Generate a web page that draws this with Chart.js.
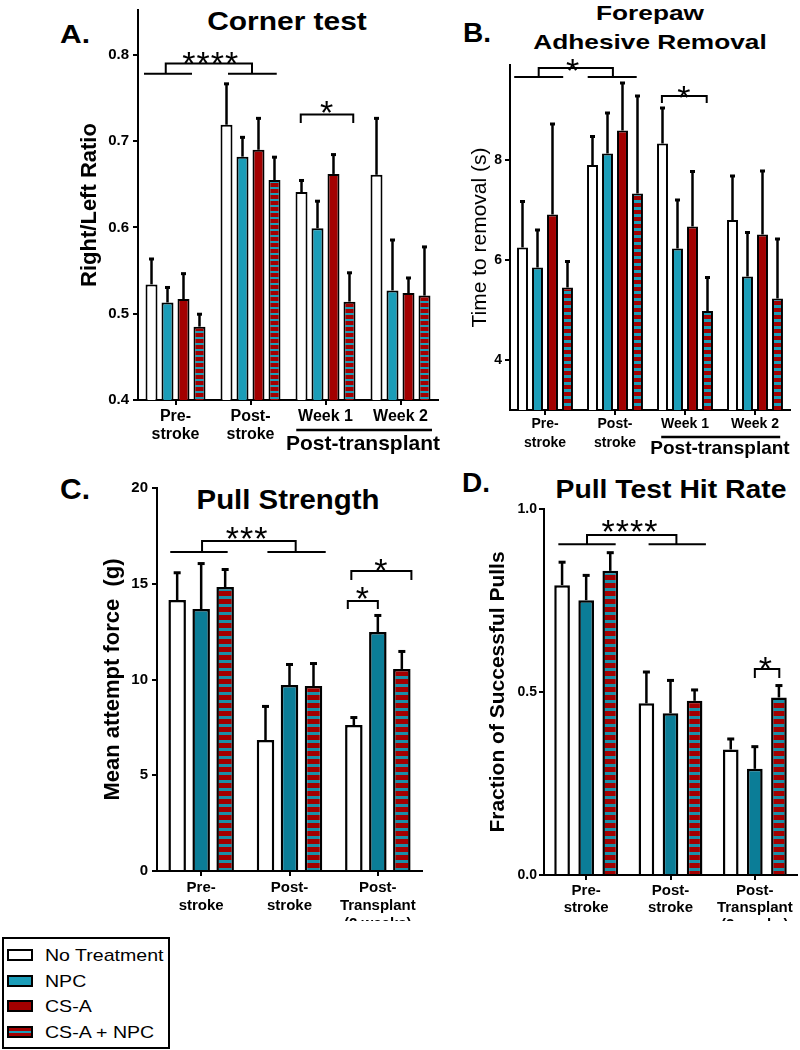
<!DOCTYPE html>
<html>
<head>
<meta charset="utf-8">
<script src="https://cdn.jsdelivr.net/npm/chart.js@4.4.1/dist/chart.umd.min.js"></script>
<style>
  body { margin: 0; background: #fff; width: 800px; height: 1050px; position: relative; overflow: hidden;
         font-family: "Liberation Sans", Arial, sans-serif; color: #000; }
  canvas { position: absolute; }
  .t { position: absolute; font-weight: bold; line-height: 1; white-space: nowrap; }
  #legend { position: absolute; left: 2px; top: 937px; width: 164px; height: 108px; border: 2px solid #000; }
  #legend .sw { position: absolute; left: 3px; width: 26px; height: 12px; box-sizing: border-box; border: 2px solid #000; }
  #legend .lb { position: absolute; left: 41px; font-size: 17px; line-height: 1; white-space: nowrap;
                transform: translateY(-50%) scaleX(1.15); transform-origin: left center; }
</style>
</head>
<body>

<div class="t" style="left:75px;top:34px;font-size:25px;transform:translate(-50%,-50%) scaleX(1.2)">A.</div>
<div class="t" style="left:287px;top:21px;font-size:26px;transform:translate(-50%,-50%) scaleX(1.15)">Corner test</div>
<div class="t" style="left:477px;top:33px;font-size:28px;transform:translate(-50%,-50%)">B.</div>
<div class="t" style="left:650px;top:12px;font-size:21px;transform:translate(-50%,-50%) scaleX(1.25)">Forepaw</div>
<div class="t" style="left:650px;top:41px;font-size:21px;transform:translate(-50%,-50%) scaleX(1.25)">Adhesive Removal</div>
<div class="t" style="left:75px;top:489px;font-size:30px;transform:translate(-50%,-50%)">C.</div>
<div class="t" style="left:288px;top:500px;font-size:28px;transform:translate(-50%,-50%) scaleX(1.05)">Pull Strength</div>
<div class="t" style="left:476px;top:483px;font-size:28px;transform:translate(-50%,-50%)">D.</div>
<div class="t" style="left:671px;top:489px;font-size:26px;transform:translate(-50%,-50%) scaleX(1.09)">Pull Test Hit Rate</div>

<canvas id="chartA" width="445" height="463" style="left:0;top:-3px"></canvas>
<canvas id="chartB" width="355" height="463" style="left:445px;top:0"></canvas>
<canvas id="chartC" width="430" height="458" style="left:0;top:463px"></canvas>
<canvas id="chartD" width="370" height="458" style="left:430px;top:463px"></canvas>

<div id="legend">
  <div class="sw" style="top:10px;background:#fff"></div><div class="lb" style="top:16px">No Treatment</div>
  <div class="sw" style="top:36px;background:#1b9db8"></div><div class="lb" style="top:42px">NPC</div>
  <div class="sw" style="top:61px;background:#a30000"></div><div class="lb" style="top:67px">CS-A</div>
  <div class="sw" style="top:87px;background:linear-gradient(#a30000 0 35%, #1b9db8 35% 65%, #a30000 65%)"></div><div class="lb" style="top:93px">CS-A + NPC</div>
</div>

<script>
// ---- categories ----
const groupsAB = [['Pre-', 'stroke'], ['Post-', 'stroke'], 'Week 1', 'Week 2'];
const groupsCD = [['Pre-', 'stroke'], ['Post-', 'stroke'], ['Post-', 'Transplant', '(2 weeks)']];

// ---- A. Corner test (right/left ratio), mean and SEM ----
const cornerNoTx = [0.534, 0.719, 0.641, 0.661];
const cornerNoTxSem = [0.030, 0.048, 0.014, 0.066];
const cornerNpc = [0.513, 0.682, 0.599, 0.527];
const cornerNpcSem = [0.018, 0.023, 0.032, 0.059];
const cornerCsa = [0.517, 0.690, 0.662, 0.524];
const cornerCsaSem = [0.030, 0.037, 0.023, 0.018];
const cornerCombo = [0.485, 0.655, 0.514, 0.521];
const cornerComboSem = [0.015, 0.027, 0.034, 0.057];
const cornerTicks = [0.4, 0.5, 0.6, 0.7, 0.8];

// ---- B. Forepaw adhesive removal (s) ----
const adhesiveNoTx = [6.25, 7.90, 8.33, 6.80];
const adhesiveNoTxSem = [0.93, 0.58, 0.72, 0.89];
const adhesiveNpc = [5.85, 8.13, 6.23, 5.67];
const adhesiveNpcSem = [0.76, 0.82, 0.98, 0.89];
const adhesiveCsa = [6.91, 8.59, 6.67, 6.51];
const adhesiveCsaSem = [1.82, 0.96, 1.11, 1.28];
const adhesiveCombo = [5.45, 7.33, 4.98, 5.23];
const adhesiveComboSem = [0.53, 1.96, 0.68, 1.20];
const adhesiveTicks = [4, 6, 8];

// ---- C. Pull strength (g) ----
const strengthNoTx = [14.15, 6.84, 7.62];
const strengthNoTxSem = [1.45, 1.78, 0.42];
const strengthNpc = [13.68, 9.71, 12.48];
const strengthNpcSem = [2.40, 1.10, 0.89];
const strengthCombo = [14.83, 9.66, 10.55];
const strengthComboSem = [0.94, 1.20, 0.94];
const strengthTicks = [0, 5, 10, 15, 20];

// ---- D. Pull test hit rate ----
const hitNoTx = [0.792, 0.469, 0.343];
const hitNoTxSem = [0.064, 0.087, 0.030];
const hitNpc = [0.751, 0.442, 0.290];
const hitNpcSem = [0.069, 0.091, 0.062];
const hitCombo = [0.831, 0.476, 0.485];
const hitComboSem = [0.051, 0.031, 0.034];
const hitTicks = [0, 0.5, 1];

const FONT = '"Liberation Sans", Arial, sans-serif';
const RED = '#a30000';
const TEAL_AB = '#1b9db8';
const TEAL_CD = '#0b7d97';

Chart.defaults.font.family = FONT;
Chart.defaults.color = '#000';

// horizontal red/teal stripes for the CS-A + NPC bars
function stripes(redH, tealH, teal) {
  const c = document.createElement('canvas');
  c.width = 4; c.height = redH + tealH;
  const g = c.getContext('2d');
  g.fillStyle = RED; g.fillRect(0, 0, 4, redH);
  g.fillStyle = teal; g.fillRect(0, redH, 4, tealH);
  return g.createPattern(c, 'repeat');
}

function bars(label, values, sem, fill, border) {
  return { label, data: values, errors: sem, backgroundColor: fill,
           borderColor: '#000', borderWidth: border, borderSkipped: 'start' };
}

// error bars: only the upper whisker with a small cap
const errorBars = {
  id: 'errorBars',
  afterDatasetsDraw(chart, args, o) {
    const { ctx, scales: { y } } = chart;
    ctx.save();
    ctx.strokeStyle = '#000';
    ctx.fillStyle = '#000';
    ctx.lineWidth = o.stem;
    chart.data.datasets.forEach((ds, i) => {
      chart.getDatasetMeta(i).data.forEach((bar, j) => {
        const top = y.getPixelForValue(ds.data[j] + ds.errors[j]);
        ctx.beginPath();
        ctx.moveTo(bar.x, bar.y);
        ctx.lineTo(bar.x, top);
        ctx.stroke();
        ctx.fillRect(bar.x - o.cap / 2, top - 1, o.cap, o.capH);
      });
    });
    ctx.restore();
  }
};

// significance brackets and asterisks (x in category units, y in data units)
const sigMarks = {
  id: 'sigMarks',
  afterDraw(chart, args, o) {
    const { ctx, scales: { x, y } } = chart;
    const px = v => x.getPixelForValue(v);
    const py = v => y.getPixelForValue(v);
    ctx.save();
    ctx.strokeStyle = '#000';
    ctx.fillStyle = '#000';
    ctx.lineWidth = 2;
    ctx.font = o.starSize + 'px ' + FONT;
    ctx.letterSpacing = '1px';
    ctx.textAlign = 'center';
    ctx.textBaseline = 'alphabetic';
    (o.marks || []).forEach(m => {
      ctx.beginPath();
      (m.under || []).forEach(([a, b]) => {
        ctx.moveTo(px(a), py(m.base));
        ctx.lineTo(px(b), py(m.base));
      });
      const [l, r] = m.legs;
      ctx.moveTo(px(l), py(m.base));
      ctx.lineTo(px(l), py(m.top));
      ctx.lineTo(px(r), py(m.top));
      ctx.lineTo(px(r), py(m.base));
      ctx.stroke();
      ctx.fillText(m.text, px(m.at[0]), py(m.at[1]) + o.starSize * 0.58);
    });
    ctx.restore();
  }
};

// "Post-transplant" line + label under the week groups
const groupSpan = {
  id: 'groupSpan',
  afterDraw(chart, args, o) {
    if (!o.text) return;
    const { ctx, chartArea, scales: { x } } = chart;
    ctx.save();
    ctx.strokeStyle = '#000';
    ctx.lineWidth = 2.5;
    ctx.beginPath();
    ctx.moveTo(x.getPixelForValue(o.from), chartArea.bottom + o.lineGap);
    ctx.lineTo(x.getPixelForValue(o.to), chartArea.bottom + o.lineGap);
    ctx.stroke();
    ctx.fillStyle = '#000';
    ctx.font = 'bold ' + o.size + 'px ' + FONT;
    ctx.textAlign = 'center';
    ctx.textBaseline = 'middle';
    ctx.fillText(o.text, x.getPixelForValue(o.center), chartArea.bottom + o.textGap);
    ctx.restore();
  }
};

function panel(id, o) {
  o.datasets.forEach(ds => { ds.categoryPercentage = o.catPct; ds.barPercentage = o.barPct; });
  const axisLine = { display: true, color: '#000', width: 2 };
  const tickMarks = { display: true, offset: false, drawOnChartArea: false, drawTicks: true,
                      tickLength: 5, color: '#000', lineWidth: 2 };
  return new Chart(document.getElementById(id), {
    type: 'bar',
    data: { labels: o.labels, datasets: o.datasets },
    options: {
      responsive: false,
      animation: false,
      layout: { padding: o.padding },
      plugins: {
        legend: { display: false },
        tooltip: { enabled: false },
        errorBars: o.errorBars,
        sigMarks: o.sig,
        groupSpan: o.span || {}
      },
      scales: {
        x: {
          afterFit: s => { s.height = o.xHeight; },
          border: axisLine,
          grid: tickMarks,
          ticks: { color: '#000', padding: o.xPad, maxRotation: 0, autoSkip: false, font: o.xFont }
        },
        y: {
          min: o.yMin,
          max: o.yMax,
          afterBuildTicks: s => { s.ticks = o.ticks.map(v => ({ value: v })); },
          afterFit: s => { s.width = o.yWidth; },
          border: axisLine,
          grid: tickMarks,
          ticks: { color: '#000', padding: o.yPad, font: o.tickFont, callback: o.tickFmt },
          title: { display: true, text: o.yTitle, color: '#000', font: o.yTitleFont,
                   padding: { top: o.yTitlePad, bottom: 0 } }
        }
      }
    },
    plugins: [errorBars, sigMarks, groupSpan]
  });
}

document.addEventListener('DOMContentLoaded', () => {
  // A. Corner test
  panel('chartA', {
    labels: groupsAB,
    datasets: [
      bars('No Treatment', cornerNoTx, cornerNoTxSem, '#fff', 2),
      bars('NPC', cornerNpc, cornerNpcSem, TEAL_AB, 2),
      bars('CS-A', cornerCsa, cornerCsaSem, RED, 2),
      bars('CS-A + NPC', cornerCombo, cornerComboSem, stripes(4, 2, TEAL_AB), 2)
    ],
    padding: { left: 0, top: 10, right: 7, bottom: 0 },
    yWidth: 138, xHeight: 60,
    yMin: 0.4, yMax: 0.852, ticks: cornerTicks, tickFmt: v => v.toFixed(1),
    tickFont: { size: 15, weight: 'bold' }, yPad: 4,
    yTitle: 'Right/Left Ratio', yTitleFont: { size: 22, weight: 'bold', lineHeight: 1.2 }, yTitlePad: 76.8,
    xFont: { size: 16, weight: 'bold', lineHeight: 1.125 }, xPad: 3,
    catPct: 0.853, barPct: 0.75,
    errorBars: { stem: 2.5, cap: 5, capH: 3 },
    sig: { starSize: 34, marks: [
      { under: [[-0.42, 0.22], [0.70, 1.35]], legs: [-0.13, 1.02], base: 0.778, top: 0.790, text: '****', at: [0.47, 0.8] },
      { legs: [1.67, 2.37], base: 0.721, top: 0.731, text: '*', at: [2.02, 0.743] }
    ] },
    span: { from: 1.61, to: 3.42, center: 2.5, lineGap: 30, textGap: 44, size: 21, text: 'Post-transplant' }
  });

  // B. Forepaw adhesive removal
  panel('chartB', {
    labels: groupsAB,
    datasets: [
      bars('No Treatment', adhesiveNoTx, adhesiveNoTxSem, '#fff', 2),
      bars('NPC', adhesiveNpc, adhesiveNpcSem, TEAL_AB, 2),
      bars('CS-A', adhesiveCsa, adhesiveCsaSem, RED, 2),
      bars('CS-A + NPC', adhesiveCombo, adhesiveComboSem, stripes(4, 3, TEAL_AB), 2)
    ],
    padding: { left: 0, top: 65, right: 10, bottom: 0 },
    yWidth: 65, xHeight: 53,
    yMin: 3, yMax: 9.9, ticks: adhesiveTicks, tickFmt: v => String(v),
    tickFont: { size: 14, weight: 'bold' }, yPad: 3,
    yTitle: 'Time to removal (s)', yTitleFont: { size: 21, weight: 'normal', lineHeight: 1.2 }, yTitlePad: 22.4,
    xFont: { size: 14, weight: 'bold', lineHeight: 1.357 }, xPad: 0,
    catPct: 0.857, barPct: 0.73,
    errorBars: { stem: 2.5, cap: 5, capH: 3 },
    sig: { starSize: 34, marks: [
      { under: [[-0.44, 0.26], [0.61, 1.31]], legs: [-0.09, 0.97], base: 9.66, top: 9.84, text: '*', at: [0.4, 9.96] },
      { legs: [1.67, 2.31], base: 9.14, top: 9.28, text: '*', at: [1.99, 9.42] }
    ] },
    span: { from: 1.66, to: 3.36, center: 2.5, lineGap: 27, textGap: 39, size: 19, text: 'Post-transplant' }
  });

  // C. Pull strength
  panel('chartC', {
    labels: groupsCD,
    datasets: [
      bars('No Treatment', strengthNoTx, strengthNoTxSem, '#fff', 2.5),
      bars('NPC', strengthNpc, strengthNpcSem, TEAL_CD, 2.5),
      bars('CS-A + NPC', strengthCombo, strengthComboSem, stripes(5, 3, '#1a8fa8'), 2.5)
    ],
    padding: { left: 0, top: 25, right: 8, bottom: 0 },
    yWidth: 157, xHeight: 50,
    yMin: 0, yMax: 20, ticks: strengthTicks, tickFmt: v => String(v),
    tickFont: { size: 15, weight: 'bold' }, yPad: 4,
    yTitle: 'Mean attempt force  (g)', yTitleFont: { size: 22, weight: 'bold', lineHeight: 1.2 }, yTitlePad: 99.8,
    xFont: { size: 15, weight: 'bold', lineHeight: 1.2 }, xPad: 3,
    catPct: 0.815, barPct: 0.73,
    errorBars: { stem: 2.5, cap: 7, capH: 3 },
    sig: { starSize: 34, marks: [
      { under: [[-0.35, 0.30], [0.75, 1.41]], legs: [0.01, 1.07], base: 16.66, top: 17.23, text: '***', at: [0.52, 17.8] },
      { legs: [1.66, 2.0], base: 13.68, top: 14.1, text: '*', at: [1.83, 14.67] },
      { legs: [1.70, 2.38], base: 15.2, top: 15.67, text: '*', at: [2.04, 16.1] }
    ] }
  });

  // D. Pull test hit rate
  panel('chartD', {
    labels: groupsCD,
    datasets: [
      bars('No Treatment', hitNoTx, hitNoTxSem, '#fff', 2.5),
      bars('NPC', hitNpc, hitNpcSem, TEAL_CD, 2.5),
      bars('CS-A + NPC', hitCombo, hitComboSem, stripes(5, 3, '#1a8fa8'), 2.5)
    ],
    padding: { left: 0, top: 46, right: 3, bottom: 0 },
    yWidth: 114, xHeight: 46,
    yMin: 0, yMax: 1, ticks: hitTicks, tickFmt: v => v.toFixed(1),
    tickFont: { size: 14, weight: 'bold' }, yPad: 2,
    yTitle: 'Fraction of Successful Pulls', yTitleFont: { size: 21, weight: 'bold', lineHeight: 1.2 }, yTitlePad: 55.4,
    xFont: { size: 15, weight: 'bold', lineHeight: 1.133 }, xPad: 2.5,
    catPct: 0.857, barPct: 0.65,
    errorBars: { stem: 2.5, cap: 7, capH: 3 },
    sig: { starSize: 34, marks: [
      { under: [[-0.33, 0.35], [0.74, 1.42]], legs: [0.01, 1.07], base: 0.904, top: 0.929, text: '****', at: [0.52, 0.962] },
      { legs: [2.0, 2.29], base: 0.538, top: 0.563, text: '*', at: [2.13, 0.587] }
    ] }
  });
});
</script>
</body>
</html>
